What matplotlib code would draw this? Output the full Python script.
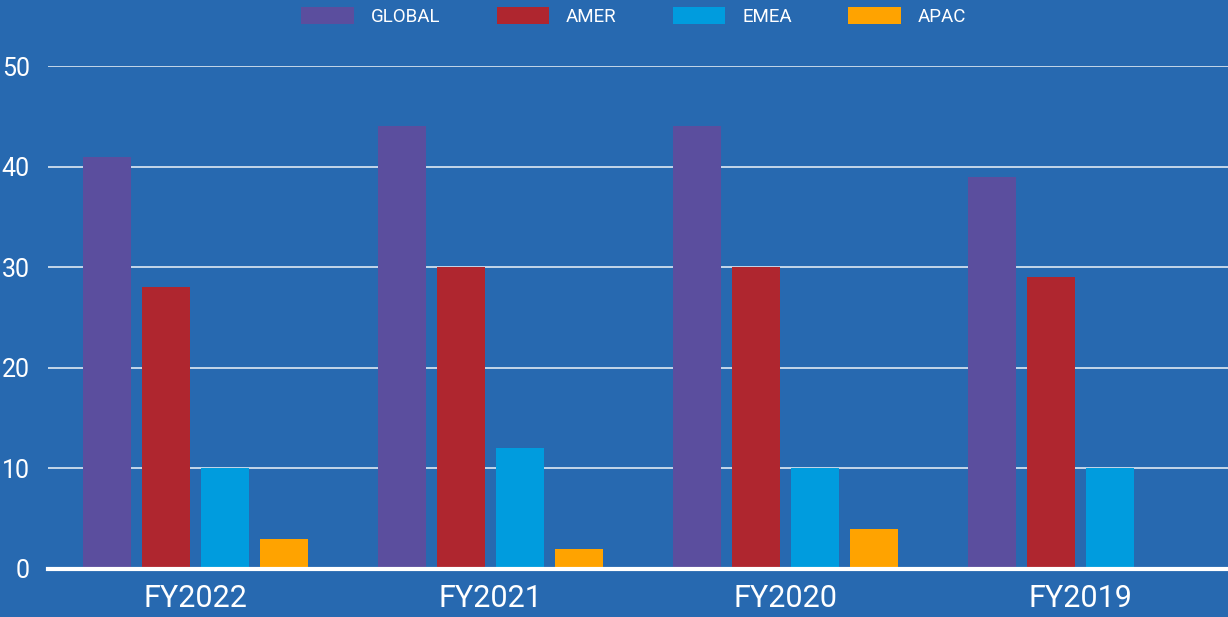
import numpy as np
import matplotlib
matplotlib.use("Agg")
import matplotlib.pyplot as plt

# data
years = ["FY2022", "FY2021", "FY2020", "FY2019"]
regions = ["GLOBAL", "AMER", "EMEA", "APAC"]
global_vals = [41, 44, 44, 39]
amer_vals = [28, 30, 30, 29]
emea_vals = [10, 12, 10, 10]
apac_vals = [3, 2, 4, 0]
yticks = [0, 10, 20, 30, 40, 50]

colors = ["#5B4E9E", "#AF262F", "#009CDE", "#FFA300"]
bg = "#2769B0"

plt.rcParams['font.family'] = ['Roboto', 'DejaVu Sans']

fig = plt.figure(figsize=(12.28, 6.17), dpi=100, facecolor=bg)
ax = fig.add_axes([48 / 1228, 48 / 617, 1 - 48 / 1228, (569 - 66) / 617])
ax.set_facecolor(bg)

x = np.arange(len(years))
width = 0.163
step = 0.2
series = [global_vals, amer_vals, emea_vals, apac_vals]
for i, vals in enumerate(series):
    ax.bar(x + (i - 1.5) * step, vals, width, color=colors[i], label=regions[i], zorder=3)

ax.set_xlim(-0.5, 3.5)
ax.set_ylim(0, 50)
ax.set_yticks(yticks)
ax.set_xticks(x)
ax.set_xticklabels(years)

# grid lines and baseline
for t in yticks[1:]:
    ax.axhline(t, color="white", lw=1.2, alpha=0.85, zorder=1)
ax.axhline(0, color="white", lw=3, zorder=4, clip_on=False)

for s in ax.spines.values():
    s.set_visible(False)
ax.tick_params(axis="both", length=0, colors="white")
ax.tick_params(axis="y", labelsize=18, pad=13)
ax.tick_params(axis="x", labelsize=22, pad=11)

leg = fig.legend(loc="center", bbox_to_anchor=(0.516, 0.973), ncol=4, frameon=False,
                 fontsize=13.5, handlelength=2.8, handleheight=1.0,
                 handletextpad=0.9, columnspacing=3.0)
for t in leg.get_texts():
    t.set_color("white")

fig.savefig("out.png", dpi=100, facecolor=bg)
